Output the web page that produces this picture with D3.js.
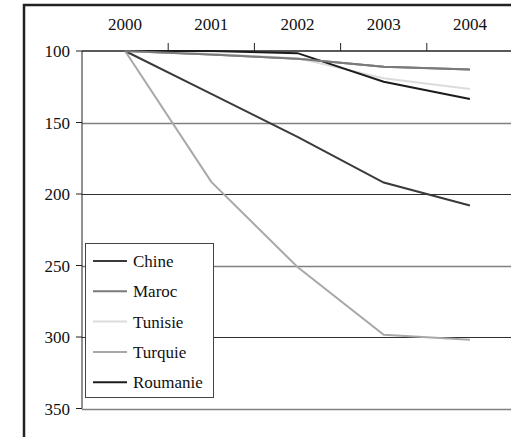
<!DOCTYPE html>
<html><head><meta charset="utf-8">
<script src="https://cdn.jsdelivr.net/npm/d3@7"></script>
</head><body style="margin:0;background:#fff">
<script>
const years = ["2000","2001","2002","2003","2004"];
const seriesNames = ["Chine","Maroc","Tunisie","Turquie","Roumanie"];
const chine    = [100, 130, 160, 192, 208];
const maroc    = [100, 102.5, 105.5, 111, 113];
const tunisie  = [100, 102, 105, 119, 126.5];
const turquie  = [100, 191.5, 251, 298.5, 302];
const roumanie = [100, 100, 101.5, 121.5, 133.5];
const yTicks = [100, 150, 200, 250, 300, 350];
const colors = ["#3a3a3a", "#7a7a7a", "#dcdcdc", "#a8a8a8", "#1c1c1c"];
const allSeries = [chine, maroc, tunisie, turquie, roumanie];

const W = 511, H = 437;
const svg = d3.select("body").append("svg").attr("width", W).attr("height", H).style("display","block");

function label(sel){ return sel.style("font-family","'Liberation Serif'").style("font-size","17px").attr("fill","#111"); }

svg.append("line").attr("x1",24).attr("x2",24).attr("y1",4).attr("y2",H).attr("stroke","#222").attr("stroke-width",2.5);
svg.append("line").attr("x1",23).attr("x2",W).attr("y1",5).attr("y2",5).attr("stroke","#222").attr("stroke-width",2.5);

const x = d3.scaleBand().domain(years).range([82, 513]).padding(0);
const y = d3.scaleLinear().domain([100, 350]).range([51, 408.5]);
const cx = d => x(d) + x.bandwidth()/2;

yTicks.slice(1).forEach((t,i) => {
  svg.append("line").attr("x1",82).attr("x2",W).attr("y1",Math.round(y(t))+0.5).attr("y2",Math.round(y(t))+0.5)
    .attr("stroke", i%2===0 ? "#808080" : "#303030").attr("stroke-width", i%2===0 ? 1.5 : 1.2);
});

// y axis: line + ticks, labels drawn separately
svg.append("line").attr("x1",82).attr("x2",82).attr("y1",y(100)).attr("y2",y(350)).attr("stroke","#222");
yTicks.forEach(t => {
  svg.append("line").attr("x1",76).attr("x2",82).attr("y1",y(t)).attr("y2",y(t)).attr("stroke","#222");
  label(svg.append("text")).attr("x",70).attr("y",y(t)+6).attr("text-anchor","end").text(d3.format("d")(t));
});

svg.append("line").attr("x1",82).attr("x2",W).attr("y1",y(100)).attr("y2",y(100)).attr("stroke","#222").attr("stroke-width",1.3);

years.forEach((yr,i) => {
  if (i>0) svg.append("line").attr("x1",x(yr)).attr("x2",x(yr)).attr("y1",43).attr("y2",y(100)).attr("stroke","#222");
  label(svg.append("text")).attr("x",cx(yr)).attr("y",30).attr("text-anchor","middle").text(yr);
});

const line = d3.line().x((d,i) => cx(years[i])).y(d => y(d));
allSeries.forEach((s,i) => {
  svg.append("path").datum(s).attr("d", line).attr("fill","none").attr("stroke", colors[i]).attr("stroke-width", 2);
});
svg.append("path").datum(maroc).attr("d", line).attr("fill","none").attr("stroke", colors[1]).attr("stroke-width", 2);

const lg = svg.append("g");
lg.append("rect").attr("x",85.5).attr("y",243.5).attr("width",128).attr("height",154).attr("fill","#fff").attr("stroke","#444").attr("stroke-width",1);
seriesNames.forEach((n,i) => {
  const yy = 261 + i*30.3;
  lg.append("line").attr("x1",93).attr("x2",127).attr("y1",yy).attr("y2",yy).attr("stroke",colors[i]).attr("stroke-width",2);
  label(lg.append("text")).attr("x",133).attr("y",yy+6).text(n);
});
</script>
</body></html>
